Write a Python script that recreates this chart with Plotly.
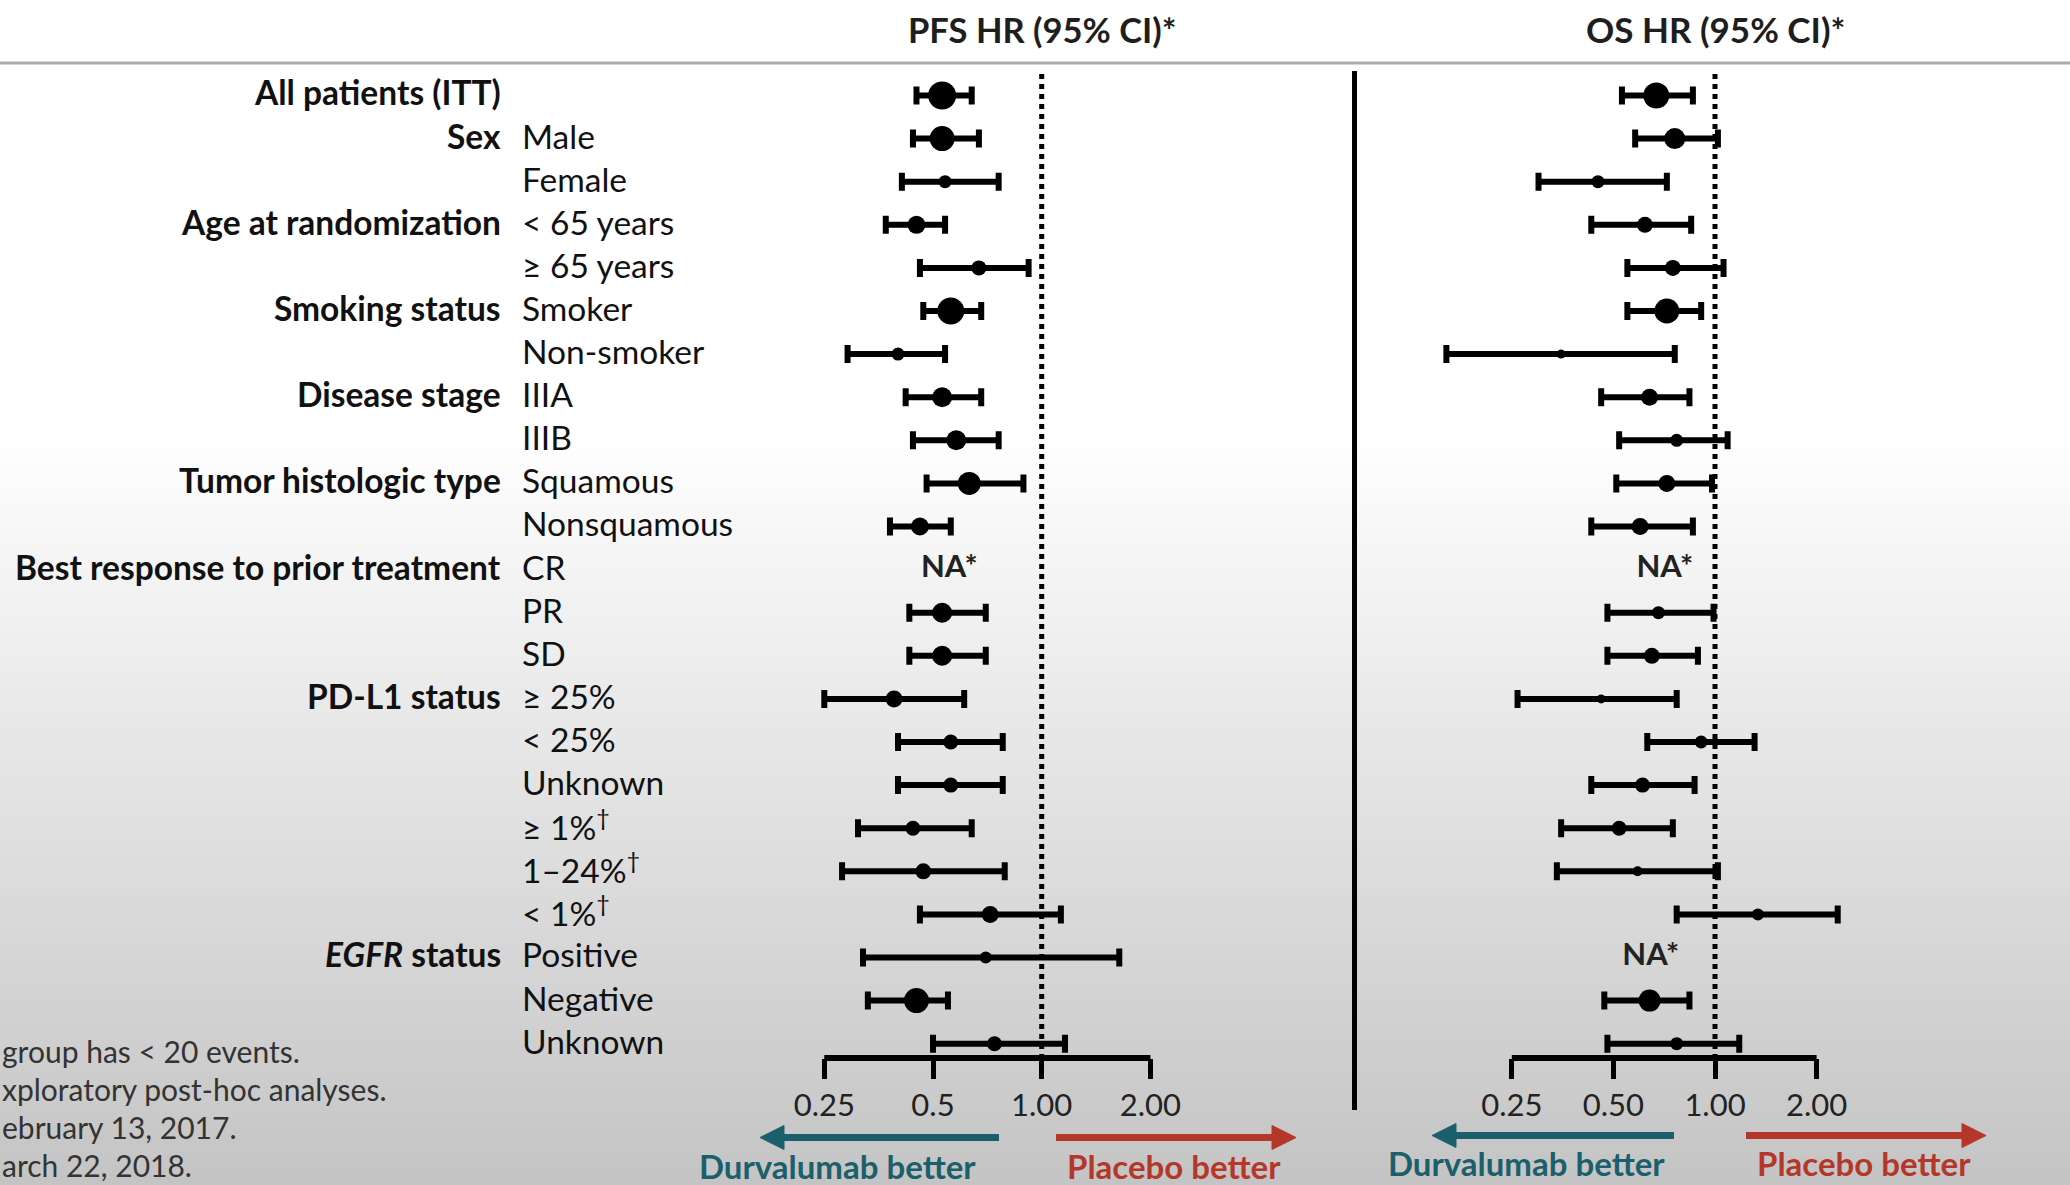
import math
import plotly.graph_objects as go

# ---------------------------------------------------------------- data ----
group_labels = [
    "All patients (ITT)", "Sex", "", "Age at randomization", "",
    "Smoking status", "", "Disease stage", "", "Tumor histologic type", "",
    "Best response to prior treatment", "", "", "PD-L1 status", "", "", "",
    "", "", "<i>EGFR</i> status", "", "",
]
subgroup_labels = [
    "", "Male", "Female", "&lt; 65 years", "≥ 65 years", "Smoker",
    "Non-smoker", "IIIA", "IIIB", "Squamous", "Nonsquamous", "CR", "PR", "SD",
    "≥ 25%", "&lt; 25%", "Unknown", "≥ 1%<sup>†</sup>", "1–24%<sup>†</sup>",
    "&lt; 1%<sup>†</sup>", "Positive", "Negative", "Unknown",
]

# progression-free survival hazard ratios (None = not available)
pfs_hr = [0.53, 0.53, 0.54, 0.45, 0.67, 0.56, 0.40, 0.53, 0.58, 0.63, 0.46,
          None, 0.53, 0.53, 0.39, 0.56, 0.56, 0.44, 0.47, 0.72, 0.70, 0.45, 0.74]
pfs_lo = [0.45, 0.44, 0.41, 0.37, 0.46, 0.47, 0.29, 0.42, 0.44, 0.48, 0.38,
          None, 0.43, 0.43, 0.25, 0.40, 0.40, 0.31, 0.28, 0.46, 0.32, 0.33, 0.50]
pfs_hi = [0.64, 0.67, 0.76, 0.54, 0.92, 0.68, 0.54, 0.68, 0.76, 0.89, 0.56,
          None, 0.70, 0.70, 0.61, 0.78, 0.78, 0.64, 0.79, 1.13, 1.64, 0.55, 1.16]
pfs_weight = [28, 25, 13, 18, 15, 27, 13, 20, 20, 23, 18,
              None, 20, 20, 17, 15, 15, 15, 16, 17, 12, 25, 15]

# overall survival hazard ratios (None = not available)
os_hr = [0.67, 0.76, 0.45, 0.62, 0.75, 0.72, 0.35, 0.64, 0.77, 0.72, 0.60,
         None, 0.68, 0.65, 0.46, 0.91, 0.61, 0.52, 0.59, 1.34, None, 0.64, 0.77]
os_lo = [0.53, 0.58, 0.30, 0.43, 0.55, 0.55, 0.16, 0.46, 0.52, 0.51, 0.43,
         None, 0.48, 0.48, 0.26, 0.63, 0.43, 0.35, 0.34, 0.77, None, 0.47, 0.48]
os_hi = [0.86, 1.02, 0.72, 0.85, 1.06, 0.91, 0.76, 0.84, 1.09, 0.98, 0.86,
         None, 0.99, 0.89, 0.77, 1.31, 0.87, 0.75, 1.02, 2.31, None, 0.84, 1.18]
os_weight = [26, 21, 13, 16, 16, 25, 9, 17, 13, 17, 17,
             None, 13, 16, 9, 13, 15, 15, 10, 12, None, 22, 13]

pfs_tick_vals = [0.25, 0.5, 1.0, 2.0]
pfs_tick_text = ["0.25", "0.5", "1.00", "2.00"]
os_tick_vals = [0.25, 0.5, 1.0, 2.0]
os_tick_text = ["0.25", "0.50", "1.00", "2.00"]

footnotes = [
    "group has &lt; 20 events.",
    "xploratory post-hoc analyses.",
    "ebruary 13, 2017.",
    "arch 22, 2018.",
]

# -------------------------------------------------------------- layout ----
W, H = 2070, 1185
FONT = "Lato"
INK = "#111111"
TEAL = "#1c5f6c"
RED = "#b4372a"

ROW0_PX, ROW_STEP = 95.5, 43.1    # pixel row of first subgroup and row pitch
AXIS_PX = 1058                    # pixel row of the HR axis baseline


def row_at(px):
    return (px - ROW0_PX) / ROW_STEP


def fx(px):
    return px / W


def fy(px):
    return 1 - px / H


def log_axis(px_one, px_per_doubling, px_lo, px_hi, vals, text):
    k = math.log10(2) / px_per_doubling
    return dict(
        type="log", domain=[fx(px_lo), fx(px_hi)],
        range=[(px_lo - px_one) * k, (px_hi - px_one) * k],
        anchor="free", position=fy(AXIS_PX),
        showgrid=False, zeroline=False, showline=False,
        ticks="outside", ticklen=20, tickwidth=5, tickcolor="black",
        tickvals=vals, ticktext=text, ticklabelstandoff=0,
        tickfont=dict(family=FONT, size=31, color="#222222"),
        fixedrange=True,
    )


fig = go.Figure()
n_rows = len(subgroup_labels)
rows = list(range(n_rows))
axis_row = row_at(AXIS_PX)


def add_panel(hr, lo, hi, weight, xa, ticks, na_x):
    plus = [None if v is None else h - v for v, h in zip(hr, hi)]
    minus = [None if v is None else v - l for v, l in zip(hr, lo)]
    # reference line at HR = 1
    fig.add_trace(go.Scatter(
        x=[1, 1], y=[row_at(74), axis_row], xaxis=xa, yaxis="y",
        mode="lines", line=dict(color="black", width=5, dash="dot"),
        hoverinfo="skip", showlegend=False))
    # axis baseline between the outer ticks
    fig.add_trace(go.Scatter(
        x=[ticks[0], ticks[-1]], y=[axis_row, axis_row],
        xaxis=xa, yaxis="y", mode="lines",
        line=dict(color="black", width=6),
        hoverinfo="skip", showlegend=False))
    # point estimates with 95% CI whiskers
    fig.add_trace(go.Scatter(
        x=hr, y=rows, xaxis=xa, yaxis="y", mode="markers",
        marker=dict(color="black", opacity=1, size=[s or 0 for s in weight],
                    line=dict(width=0)),
        error_x=dict(type="data", symmetric=False, array=plus,
                     arrayminus=minus, color="black", thickness=6, width=9),
        hoverinfo="skip", showlegend=False))
    # "NA*" for subgroups without an estimate
    na_rows = [r for r, v in zip(rows, hr) if v is None]
    fig.add_trace(go.Scatter(
        x=[na_x[r] for r in na_rows], y=na_rows, xaxis=xa, yaxis="y",
        mode="text", text=["NA*"] * len(na_rows),
        textfont=dict(family=FONT, size=31, color="#222222", weight="bold"),
        hoverinfo="skip", showlegend=False))


add_panel(pfs_hr, pfs_lo, pfs_hi, pfs_weight, "x", pfs_tick_vals, {11: 0.555})
add_panel(os_hr, os_lo, os_hi, os_weight, "x2", os_tick_vals,
          {11: 0.71, 20: 0.645})

shapes = []
# soft grey wash towards the bottom of the slide
top, bottom, bands = 430, H, 76
for i in range(bands):
    y0 = top + (bottom - top) * i / bands
    y1 = top + (bottom - top) * (i + 1) / bands + 1
    g = round(255 - 59 * (i + 0.5) / bands)
    shapes.append(dict(type="rect", xref="paper", yref="paper", layer="below",
                       x0=0, x1=1, y0=fy(y1), y1=fy(y0), line=dict(width=0),
                       fillcolor=f"rgb({g},{g},{g})"))
# header rule
shapes.append(dict(type="line", xref="paper", yref="paper", x0=0, x1=1,
                   y0=fy(63), y1=fy(63), line=dict(color="#ababab", width=3)))
# divider between the two panels
shapes.append(dict(type="line", xref="paper", yref="paper",
                   x0=fx(1354.5), x1=fx(1354.5), y0=fy(71), y1=fy(1110),
                   line=dict(color="black", width=5)))


def arrow(x_tail, x_tip, y, color):
    d = 1 if x_tip > x_tail else -1
    head, half = 24, 12
    base = x_tip - d * head
    shapes.append(dict(type="line", xref="paper", yref="paper",
                       x0=fx(x_tail), x1=fx(base + d * 2), y0=fy(y), y1=fy(y),
                       line=dict(color=color, width=7)))
    path = (f"M{fx(x_tip)},{fy(y)} L{fx(base)},{fy(y - half)} "
            f"L{fx(base)},{fy(y + half)} Z")
    shapes.append(dict(type="path", xref="paper", yref="paper", path=path,
                       fillcolor=color, line=dict(color=color, width=1)))


arrow(999, 760, 1137.5, TEAL)
arrow(1056, 1296, 1137.5, RED)
arrow(1674, 1432, 1135.5, TEAL)
arrow(1746, 1986, 1135.5, RED)

annotations = []
for r, (g, s) in enumerate(zip(group_labels, subgroup_labels)):
    if g:
        annotations.append(dict(
            text=g, xref="paper", yref="y", x=fx(503), y=r - 0.07,
            xanchor="right", yanchor="middle", showarrow=False,
            font=dict(family=FONT, size=33.5, color=INK, weight="bold")))
    if s:
        annotations.append(dict(
            text=s, xref="paper", yref="y", x=fx(520), y=r - 0.07,
            xanchor="left", yanchor="middle", showarrow=False,
            font=dict(family=FONT, size=33.5, color=INK)))

for xa, title, size in (("x", "PFS HR (95% CI)*", 34.5),
                        ("x2", "OS HR (95% CI)*", 35)):
    annotations.append(dict(
        text=title, xref=xa, yref="paper", x=0, y=fy(29),
        xanchor="center", yanchor="middle", showarrow=False,
        font=dict(family=FONT, size=size, color="#1e1e1e", weight="bold")))

for cx, cy, txt, col in ((837, 1166, "Durvalumab better", TEAL),
                         (1174, 1166, "Placebo better", RED),
                         (1526, 1163, "Durvalumab better", TEAL),
                         (1864, 1163, "Placebo better", RED)):
    annotations.append(dict(
        text=txt, xref="paper", yref="paper", x=fx(cx), y=fy(cy),
        xanchor="center", yanchor="middle", showarrow=False,
        font=dict(family=FONT, size=33, color=col, weight="bold")))

for i, line in enumerate(footnotes):
    annotations.append(dict(
        text=line, xref="paper", yref="paper", x=0, y=fy(1051 + 38 * i),
        xanchor="left", yanchor="middle", showarrow=False,
        font=dict(family=FONT, size=30, color="#333333")))

fig.update_layout(
    width=W, height=H, margin=dict(l=0, r=0, t=0, b=0, pad=0),
    paper_bgcolor="white", plot_bgcolor="rgba(0,0,0,0)",
    xaxis=log_axis(1041.7, 108.7, 560, 1345, pfs_tick_vals, pfs_tick_text),
    xaxis2=log_axis(1715.0, 101.6, 1360, 2070, os_tick_vals, os_tick_text),
    yaxis=dict(domain=[0, 1], range=[row_at(H), row_at(0)], visible=False,
               fixedrange=True),
    shapes=shapes, annotations=annotations, showlegend=False,
)

fig.write_html("out.html")
